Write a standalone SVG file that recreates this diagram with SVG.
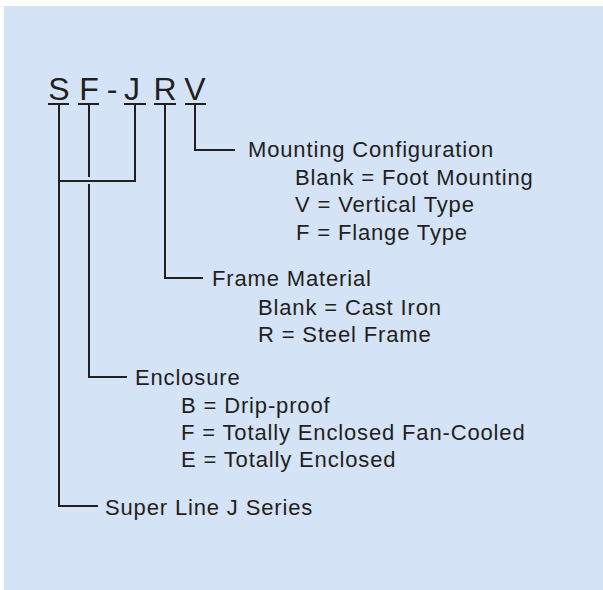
<svg xmlns="http://www.w3.org/2000/svg" width="603" height="590" viewBox="0 0 603 590">
<style>
.t{font-family:"Liberation Sans",Arial,sans-serif;font-size:22px;letter-spacing:0.85px;fill:#231f20}
.h{font-family:"Liberation Sans",Arial,sans-serif;font-size:32px;fill:#231f20;text-anchor:middle}
.c{fill:none;stroke:#231f20;stroke-width:2}
</style>
<rect x="0" y="0" width="603" height="590" fill="#ffffff"/>
<rect x="4" y="6" width="599" height="584" fill="#d4e3f5"/>
<g id="code">
<text class="h" x="59" y="100">S</text>
<text class="h" x="89" y="100">F</text>
<text class="h" x="112" y="100">-</text>
<text class="h" x="132" y="100">J</text>
<text class="h" x="165" y="100">R</text>
<text class="h" x="195" y="100">V</text>
<path class="c" d="M48 104H69M78 104H99M124 104H146M154 104H176M185 104H206"/>
</g>
<g id="connectors">
<path class="c" d="M195 104V150H235"/>
<path class="c" d="M165 104V278H203"/>
<path class="c" d="M89 104V177M89 184V377H127"/>
<path class="c" d="M135 104V181H59"/>
<path class="c" d="M59 104V506H98"/>
</g>
<g id="mounting">
<text class="t" x="248" y="157">Mounting Configuration</text>
<text class="t" x="295" y="185">Blank = Foot Mounting</text>
<text class="t" x="295" y="212">V = Vertical Type</text>
<text class="t" x="296" y="240">F = Flange Type</text>
</g>
<g id="frame">
<text class="t" x="212" y="286">Frame Material</text>
<text class="t" x="258" y="315">Blank = Cast Iron</text>
<text class="t" x="258" y="342">R = Steel Frame</text>
</g>
<g id="enclosure">
<text class="t" x="135" y="385">Enclosure</text>
<text class="t" x="181" y="413">B = Drip-proof</text>
<text class="t" x="181" y="440">F = Totally Enclosed Fan-Cooled</text>
<text class="t" x="181" y="467">E = Totally Enclosed</text>
</g>
<g id="series">
<text class="t" x="105" y="515">Super Line J Series</text>
</g>
</svg>
